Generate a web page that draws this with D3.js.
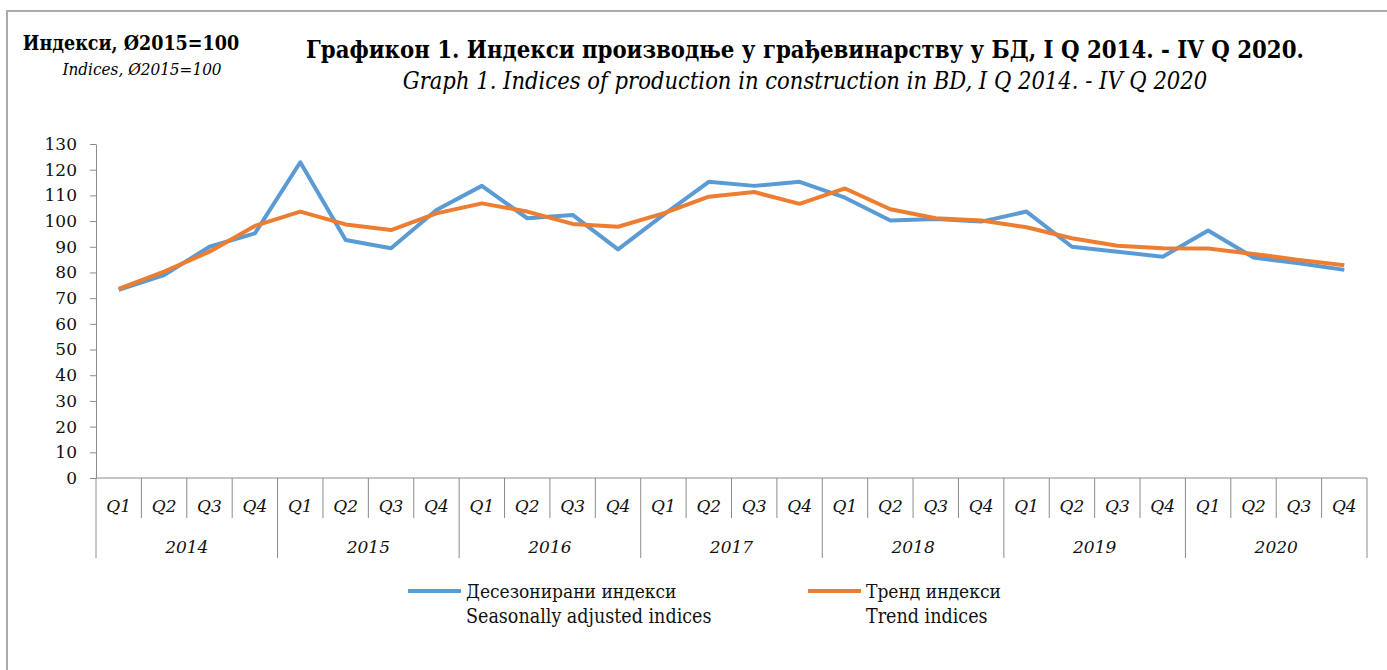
<!DOCTYPE html>
<html>
<head>
<meta charset="utf-8">
<script src="https://cdn.jsdelivr.net/npm/d3@7"></script>
<style>
  body { margin: 0; background: #fff; }
  svg { display: block; }
</style>
</head>
<body>
<div id="chart-container"></div>
<script>
// Индекси производње у грађевинарству у БД, I Q 2014 - IV Q 2020
const years = ["2014", "2015", "2016", "2017", "2018", "2019", "2020"];
const quarters = ["Q1", "Q2", "Q3", "Q4"];
const yTicks = [0, 10, 20, 30, 40, 50, 60, 70, 80, 90, 100, 110, 120, 130];

// десезонирани индекси / seasonally adjusted
const seasAdj = [73.2, 79.0, 90.0, 95.2, 122.9, 92.6, 89.4, 104.3,
                 113.7, 101.1, 102.4, 89.0, 102.4, 115.3, 113.7, 115.3,
                 109.1, 100.2, 100.8, 99.8, 103.7, 90.0, 88.1, 86.1,
                 96.3, 85.8, 83.6, 81.0];
// тренд индекси / trend
const trend = [73.6, 80.3, 88.1, 98.1, 103.7, 98.7, 96.5, 103.0,
               106.9, 103.7, 98.9, 97.8, 103.0, 109.5, 111.3, 106.7,
               112.7, 104.6, 101.1, 100.2, 97.6, 93.3, 90.4, 89.4,
               89.3, 87.2, 84.9, 82.8];

const width = 1387, height = 670;
const margin = {top: 144, left: 96};
const plotRight = 1367, plotBottom = 478;

const svg = d3.select("#chart-container")
  .append("svg")
  .attr("width", width)
  .attr("height", height);

// outer frame (only top and left visible)
svg.append("path")
  .attr("d", `M7,${height + 5}V11H${width + 5}`)
  .attr("fill", "none")
  .attr("stroke", "#ababab")
  .attr("stroke-width", 2);

const cats = years.flatMap(y => quarters.map(q => ({year: y, q})));

const x = d3.scaleBand()
  .domain(d3.range(cats.length))
  .range([margin.left, plotRight]);

const y = d3.scaleLinear()
  .domain([0, 130])
  .range([plotBottom, margin.top]);

const axisColor = "#8c8c8c";
const serif = "'DejaVu Serif', serif";
const cond = "'DejaVu Serif Condensed', 'DejaVu Serif', serif";

// y axis
const yAxis = svg.append("g")
  .attr("transform", `translate(${margin.left},0)`)
  .call(d3.axisLeft(y).tickValues(yTicks).tickSize(6).tickSizeOuter(0).tickPadding(13));
yAxis.select(".domain").attr("stroke", axisColor);
yAxis.selectAll(".tick line").attr("stroke", axisColor);
yAxis.selectAll(".tick text")
  .attr("fill", "#111")
  .style("font-family", serif)
  .style("font-size", "17px");

// x axis: baseline, quarter and year separators
const xg = svg.append("g");
xg.append("line")
  .attr("x1", margin.left).attr("x2", plotRight)
  .attr("y1", y(0)).attr("y2", y(0))
  .attr("stroke", axisColor);

xg.selectAll("line.sep")
  .data(d3.range(cats.length + 1))
  .join("line")
    .attr("class", "sep")
    .attr("x1", i => i < cats.length ? x(i) : plotRight)
    .attr("x2", i => i < cats.length ? x(i) : plotRight)
    .attr("y1", y(0))
    .attr("y2", i => i % 4 === 0 ? y(0) + 80 : y(0) + 40)
    .attr("stroke", axisColor);

xg.selectAll("text.q")
  .data(cats)
  .join("text")
    .attr("class", "q")
    .attr("x", (d, i) => x(i) + x.bandwidth() / 2)
    .attr("y", y(0) + 34)
    .attr("text-anchor", "middle")
    .style("font-family", serif)
    .style("font-style", "italic")
    .style("font-size", "17px")
    .attr("fill", "#111")
    .text(d => d.q);

xg.selectAll("text.yr")
  .data(years)
  .join("text")
    .attr("class", "yr")
    .attr("x", (d, i) => (x(i * 4) + (i * 4 + 4 < cats.length ? x(i * 4 + 4) : plotRight)) / 2)
    .attr("y", y(0) + 75)
    .attr("text-anchor", "middle")
    .style("font-family", serif)
    .style("font-style", "italic")
    .style("font-size", "17px")
    .attr("fill", "#111")
    .text(d => d);

// lines
const line = d3.line()
  .x((d, i) => x(i) + x.bandwidth() / 2)
  .y(d => y(d));

const series = [
  {name: "seas", values: seasAdj, color: "#5b9bd5"},
  {name: "trend", values: trend, color: "#ed7d31"}
];

svg.selectAll("path.series")
  .data(series)
  .join("path")
    .attr("class", "series")
    .attr("d", d => line(d.values))
    .attr("fill", "none")
    .attr("stroke", d => d.color)
    .attr("stroke-width", 4)
    .attr("stroke-linejoin", "round");

// legend
const legendItems = [
  {color: "#5b9bd5", x: 408, l1: "Десезонирани индекси", l2: "Seasonally adjusted indices"},
  {color: "#ed7d31", x: 808, l1: "Тренд индекси", l2: "Trend indices"}
];
const lg = svg.selectAll("g.legend")
  .data(legendItems)
  .join("g")
    .attr("class", "legend")
    .attr("transform", d => `translate(${d.x},591)`);
lg.append("line")
  .attr("x1", 0).attr("x2", 53)
  .attr("stroke", d => d.color)
  .attr("stroke-width", 4);
lg.append("text")
  .attr("x", 58).attr("y", 7)
  .style("font-family", cond)
  .style("font-size", "19px")
  .attr("fill", "#111")
  .text(d => d.l1);
lg.append("text")
  .attr("x", 58).attr("y", 32)
  .style("font-family", cond)
  .style("font-size", "19.5px")
  .attr("fill", "#111")
  .text(d => d.l2);

// y-axis unit label
svg.append("text")
  .attr("x", 131).attr("y", 50)
  .attr("text-anchor", "middle")
  .style("font-family", cond)
  .style("font-weight", "bold")
  .style("font-size", "19.5px")
  .text("Индекси, Ø2015=100");
svg.append("text")
  .attr("x", 142).attr("y", 75)
  .attr("text-anchor", "middle")
  .style("font-family", cond)
  .style("font-style", "italic")
  .style("font-size", "17px")
  .text("Indices, Ø2015=100");

// title
svg.append("text")
  .attr("x", 805).attr("y", 58)
  .attr("text-anchor", "middle")
  .style("font-family", cond)
  .style("font-weight", "bold")
  .style("font-size", "23.7px")
  .text("Графикон 1. Индекси производње у грађевинарству у БД, I Q 2014. - IV Q 2020.");
svg.append("text")
  .attr("x", 805).attr("y", 89)
  .attr("text-anchor", "middle")
  .style("font-family", cond)
  .style("font-style", "italic")
  .style("font-size", "23.5px")
  .text("Graph 1. Indices of production in construction in BD, I Q 2014. - IV Q 2020");
</script>
</body>
</html>
